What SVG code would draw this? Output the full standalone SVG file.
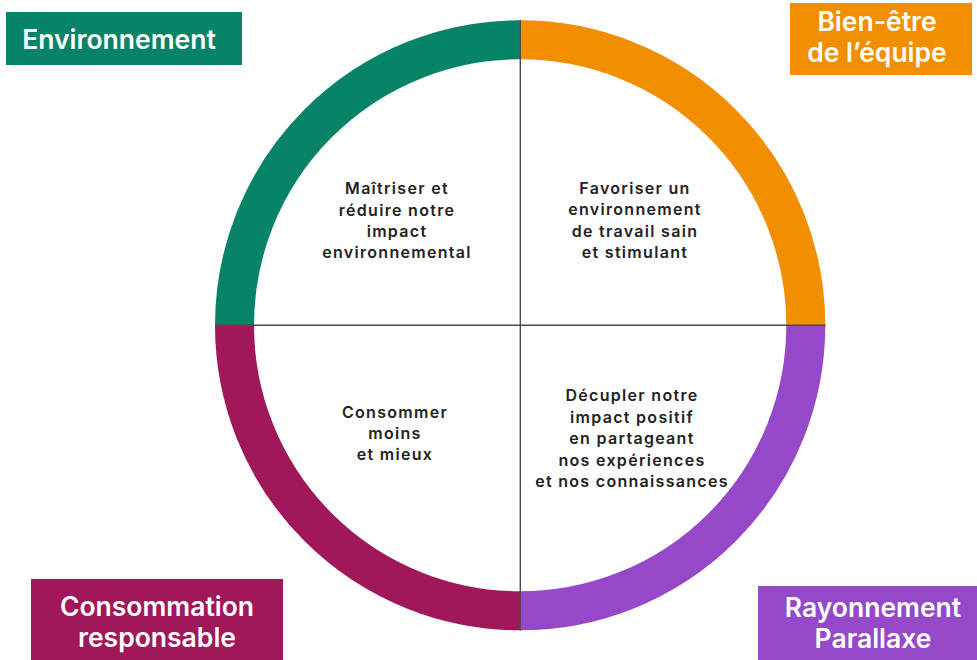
<svg xmlns="http://www.w3.org/2000/svg" width="977" height="660" viewBox="0 0 977 660">
<style>
.ring{fill:none;stroke-width:39;stroke-linecap:butt}
.lab{font-family:Inter,"Noto Sans","Liberation Sans",sans-serif;font-weight:600;font-size:26.5px;fill:#ffffff;text-anchor:middle}
.txt{font-family:Inter,"Noto Sans","Liberation Sans",sans-serif;font-weight:600;font-size:16px;fill:#222222;text-anchor:middle;letter-spacing:1.3px}
.axis{stroke:#4a4a4a;stroke-width:1.4}
</style>
<rect width="977" height="660" fill="#ffffff"/>
<g id="ring">
<path class="ring" stroke="#078467" d="M234.5,325.3 A285.5,285.5 0 0 1 520.3,39.8"/>
<path class="ring" stroke="#F18F00" d="M520.3,39.8 A285.5,285.5 0 0 1 805.8,325.3"/>
<path class="ring" stroke="#9549C8" d="M805.8,325.3 A285.5,285.5 0 0 1 520.3,610.8"/>
<path class="ring" stroke="#A0185A" d="M520.3,610.8 A285.5,285.5 0 0 1 234.5,325.3"/>
</g>
<g id="connectors">
<line class="axis" x1="215" y1="325.3" x2="825.5" y2="325.3"/>
<line class="axis" x1="520.3" y1="20" x2="520.3" y2="630.5"/>
</g>
<g id="environnement">
<rect x="6" y="12" width="236" height="53" fill="#078467"/>
<text class="lab" x="119" y="48.5">Environnement</text>
</g>
<g id="bien-etre">
<rect x="790" y="3" width="182" height="72" fill="#F18F00"/>
<text class="lab" x="877" y="30.7">Bien-être</text>
<text class="lab" x="877" y="62">de l’équipe</text>
</g>
<g id="consommation">
<rect x="31" y="579" width="252" height="81" fill="#A0185A"/>
<text class="lab" x="157" y="616">Consommation</text>
<text class="lab" x="157" y="647">responsable</text>
</g>
<g id="rayonnement">
<rect x="758" y="586" width="219" height="74" fill="#9549C8"/>
<text class="lab" x="873" y="617">Rayonnement</text>
<text class="lab" x="873" y="648">Parallaxe</text>
</g>
<g id="q-environnement">
<text class="txt" x="397" y="194">Maîtriser et</text>
<text class="txt" x="397" y="216">réduire notre</text>
<text class="txt" x="397" y="237">impact</text>
<text class="txt" x="397" y="258">environnemental</text>
</g>
<g id="q-bien-etre">
<text class="txt" x="635" y="194">Favoriser un</text>
<text class="txt" x="635" y="215">environnement</text>
<text class="txt" x="635" y="237">de travail sain</text>
<text class="txt" x="635" y="258">et stimulant</text>
</g>
<g id="q-consommation">
<text class="txt" x="395" y="418">Consommer</text>
<text class="txt" x="395" y="439">moins</text>
<text class="txt" x="395" y="460">et mieux</text>
</g>
<g id="q-rayonnement">
<text class="txt" x="632" y="401">Décupler notre</text>
<text class="txt" x="632" y="423">impact positif</text>
<text class="txt" x="632" y="444">en partageant</text>
<text class="txt" x="632" y="466">nos expériences</text>
<text class="txt" x="632" y="487">et nos connaissances</text>
</g>
</svg>
